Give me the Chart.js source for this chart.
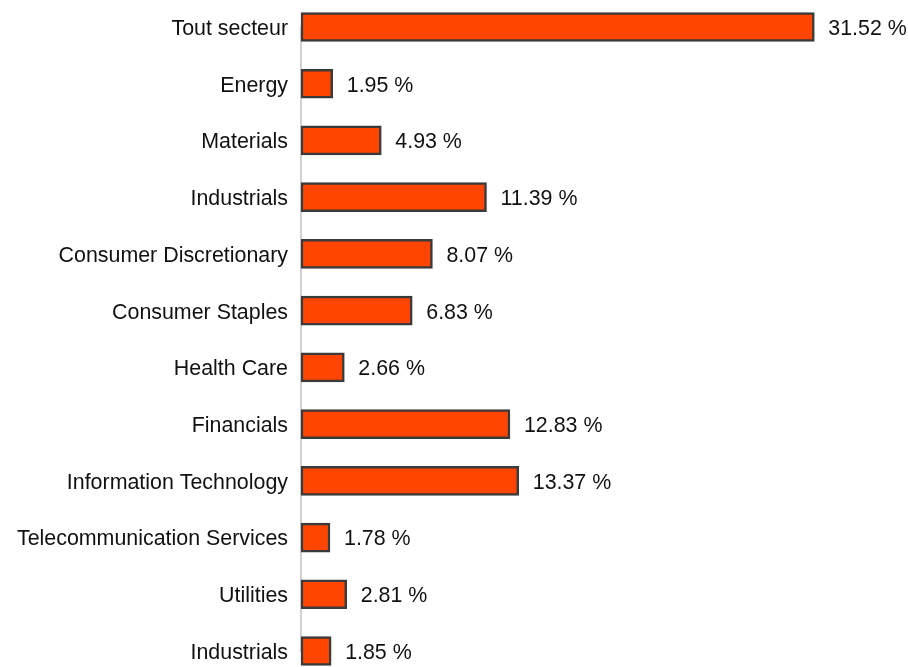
<!DOCTYPE html>
<html>
<head>
<meta charset="utf-8">
<script src="https://cdn.jsdelivr.net/npm/chart.js@4/dist/chart.umd.min.js"></script>
<style>
    html, body { margin: 0; padding: 0; background: #fff; }
    #wrap { width: 908px; height: 667px; position: relative; }
</style>
</head>
<body>
<div id="wrap"><canvas id="barChart"></canvas></div>
<script>
var secteurs = [
    'Tout secteur', 'Energy', 'Materials', 'Industrials', 'Consumer Discretionary',
    'Consumer Staples', 'Health Care', 'Financials', 'Information Technology',
    'Telecommunication Services', 'Utilities', 'Industrials'
];
var valeurs = [31.52, 1.95, 4.93, 11.39, 8.07, 6.83, 2.66, 12.83, 13.37, 1.78, 2.81, 1.85];

var police = '"Liberation Sans", Arial, sans-serif';
var taille = 21.4;

// texte "xx.xx %" a droite de chaque barre
var etiquettes = {
    id: 'etiquettes',
    afterDatasetsDraw: function (chart) {
        var ctx = chart.ctx;
        var meta = chart.getDatasetMeta(0);
        ctx.save();
        ctx.font = taille + 'px ' + police;
        ctx.fillStyle = '#111';
        ctx.textAlign = 'left';
        ctx.textBaseline = 'middle';
        meta.data.forEach(function (bar, i) {
            ctx.fillText(valeurs[i].toFixed(2) + ' %', bar.x + 14, bar.y + 2);
        });
        ctx.restore();
    }
};

new Chart(document.getElementById('barChart').getContext('2d'), {
    type: 'bar',
    data: {
        labels: secteurs,
        datasets: [{
            data: valeurs,
            backgroundColor: '#FF4500',
            borderColor: '#3a3a3a',
            borderWidth: 2.5,
            borderSkipped: false,
            barThickness: 29,
            clip: false
        }]
    },
    options: {
        indexAxis: 'y',
        responsive: true,
        maintainAspectRatio: false,
        animation: false,
        layout: { padding: { top: 27, bottom: 16, right: 37, left: 0 } },
        plugins: {
            legend: { display: false },
            tooltip: { enabled: false }
        },
        scales: {
            x: {
                display: false,
                min: 0,
                max: 35
            },
            y: {
                offset: false,
                afterFit: function (scale) {
                    scale.width = 301;
                    scale.paddingTop = 0;
                    scale.paddingBottom = 0;
                },
                grid: { display: false, drawTicks: false },
                border: { display: true, color: '#d2d2d2', width: 2 },
                ticks: {
                    padding: 13,
                    labelOffset: 2,
                    color: '#111',
                    font: { family: police, size: taille, lineHeight: 1 }
                }
            }
        }
    },
    plugins: [etiquettes]
});
</script>
</body>
</html>
